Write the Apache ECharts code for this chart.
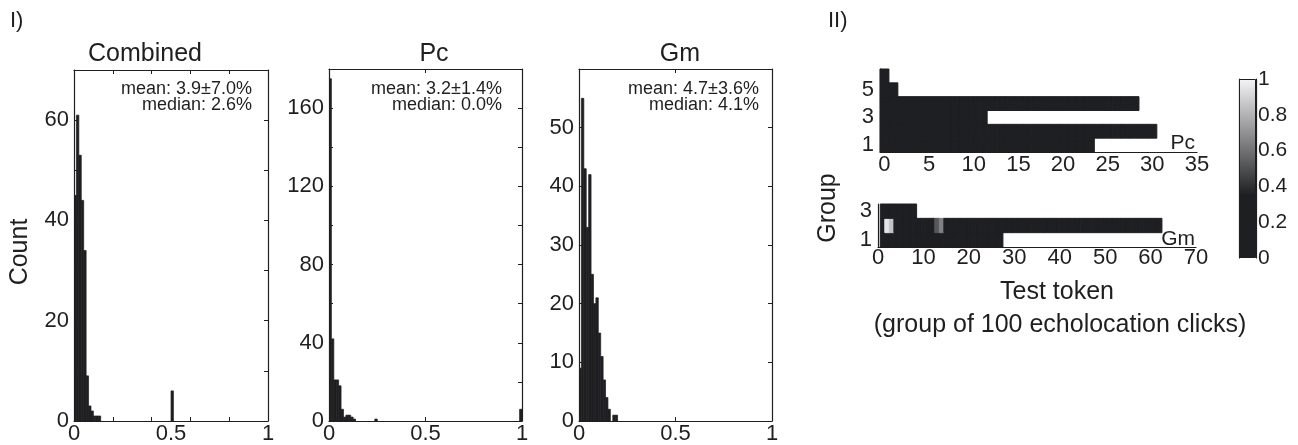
<!DOCTYPE html>
<html>
<head>
<meta charset="utf-8">
<script src="https://cdn.jsdelivr.net/npm/echarts@6/dist/echarts.min.js"></script>
<style>
  html, body { margin: 0; padding: 0; background: #fff; }
  #main { width: 1298px; height: 445px; }
</style>
</head>
<body>
<div id="main"></div>
<script>
// histogram bins, [bin index, count], bins are 0.0125 wide starting at 0
const binWidth = 0.0125;
const combinedBins = [[0,45],[1,61],[2,53],[3,44],[4,34],[5,9],[6,3],[7,2],[8,1],[9,1],[10,1],[40,6]];
const pcBins = [[0,175],[1,42],[2,21],[3,21],[4,18],[5,6],[6,2],[7,3],[8,3],[9,2],[10,1],[19,1],[79,6]];
const gmBins = [[0,9],[1,55],[2,43],[3,33],[4,42],[5,25],[6,20],[7,21],[8,15],[9,11],[10,7],[11,4],[12,2],[14,1],[15,1]];

const histTitles = ['Combined', 'Pc', 'Gm'];
const histStats = [
  ['mean: 3.9\u00b17.0%', 'median: 2.6%'],
  ['mean: 3.2\u00b11.4%', 'median: 0.0%'],
  ['mean: 4.7\u00b13.6%', 'median: 4.1%']
];
const histYMax = [70, 180, 60];
const histYTicks = [[10,20,30,40,50,60], [20,40,60,80,100,120,140,160], [10,20,30,40,50]];
const histYLabels = [[0,20,40,60], [0,40,80,120,160], [0,10,20,30,40,50]];
const histXTicks = [[0.2,0.4,0.6,0.8], [0.5], [0.5]];
const histXLabels = [0, 0.5, 1];

// test token maps: number of tokens per group (group 1 first)
const pcTokensPerGroup = [24, 31, 12, 29, 2, 1];
const gmTokensPerGroup = [27, 62, 8];
const cellBase = 0.1;
// [token, group, value] cells that are not plain dark
const gmBrightCells = [[2,2,0.95],[3,2,0.85],[13,2,0.52],[14,2,0.65]];
const pcXLabels = [0,5,10,15,20,25,30,35];
const gmXLabels = [0,10,20,30,40,50,60,70];
const pcYLabels = [1,3,5];
const gmYLabels = [1,3];
const cbarLabels = [0,0.2,0.4,0.6,0.8,1];
const cbarTicks = [0.1,0.2,0.3,0.4,0.5,0.6,0.7,0.8,0.9];

const ink = '#1f1f22';
const font = 'Liberation Sans, Arial, Helvetica, sans-serif';
const cmapStops = [[0, [30,31,34]], [0.35, [30,31,34]], [1, [244,244,246]]];

function cmap(v) {
  for (let i = 1; i < cmapStops.length; i++) {
    const a = cmapStops[i-1], b = cmapStops[i];
    if (v <= b[0]) {
      const t = (v - a[0]) / (b[0] - a[0] || 1);
      const c = a[1].map((x, j) => Math.round(x + (b[1][j] - x) * t));
      return 'rgb(' + c.join(',') + ')';
    }
  }
  return 'rgb(' + cmapStops[cmapStops.length-1][1].join(',') + ')';
}

function tokenCells(tokensPerGroup, firstToken, bright) {
  const cells = [];
  tokensPerGroup.forEach((n, gi) => {
    for (let k = 0; k < n; k++) {
      const token = firstToken + k, group = gi + 1;
      const hit = bright.find(c => c[0] === token && c[1] === group);
      cells.push([token, group, hit ? hit[2] : cellBase]);
    }
  });
  return cells;
}

function histItem(params, api) {
  const x0 = api.value(0), c = api.value(1);
  const p0 = api.coord([x0, c]);
  const p1 = api.coord([x0 + binWidth, 0]);
  return { type: 'rect', shape: { x: p0[0], y: p0[1], width: p1[0] - p0[0], height: p1[1] - p0[1] },
    style: { fill: ink, stroke: ink, lineWidth: 0.7 } };
}

function cellItem(params, api) {
  const t = api.value(0), g = api.value(1), v = api.value(2);
  const p0 = api.coord([t - 0.5, g + 0.5]);
  const p1 = api.coord([t + 0.5, g - 0.5]);
  const col = cmap(v);
  return { type: 'rect', shape: { x: p0[0], y: p0[1], width: p1[0] - p0[0], height: p1[1] - p0[1] },
    style: { fill: col, stroke: col, lineWidth: 1 } };
}

const lbl = (size, extra) => Object.assign({ color: ink, fontSize: size, fontFamily: font }, extra);
const line = { show: true, onZero: false, lineStyle: { color: ink, width: 1.2 } };

const grids = [
  { left: 74, top: 70, width: 194, height: 351 },
  { left: 329, top: 69, width: 193, height: 352 },
  { left: 579, top: 69, width: 193, height: 352 },
  { left: 880, top: 69, width: 317, height: 83 },
  { left: 878, top: 204, width: 318, height: 43 },
  { left: 1239, top: 79, width: 17, height: 179 }
];

const xAxis = [], yAxis = [], series = [], graphic = [];

[combinedBins, pcBins, gmBins].forEach((bins, i) => {
  const ticks = { show: true, inside: true, length: 4, customValues: histXTicks[i], lineStyle: { color: ink } };
  xAxis.push({ gridIndex: i, type: 'value', min: 0, max: 1, position: 'bottom', axisLine: line, axisTick: ticks,
    axisLabel: lbl(22, { customValues: histXLabels, margin: 2 }), splitLine: { show: false } });
  xAxis.push({ gridIndex: i, type: 'value', min: 0, max: 1, position: 'top', axisLine: line, axisTick: ticks,
    axisLabel: { show: false }, splitLine: { show: false } });
  const yt = { show: true, inside: true, length: 4, customValues: histYTicks[i], lineStyle: { color: ink } };
  yAxis.push({ gridIndex: i, type: 'value', min: 0, max: histYMax[i], position: 'left', axisLine: line, axisTick: yt,
    axisLabel: lbl(22, { customValues: histYLabels[i], margin: 5 }), splitLine: { show: false } });
  yAxis.push({ gridIndex: i, type: 'value', min: 0, max: histYMax[i], position: 'right', axisLine: line, axisTick: yt,
    axisLabel: { show: false }, splitLine: { show: false } });
  series.push({ type: 'custom', xAxisIndex: 2 * i, yAxisIndex: 2 * i, renderItem: histItem, clip: true,
    data: bins.map(b => [b[0] * binWidth, b[1]]) });
});

// heatmap axes
xAxis.push({ gridIndex: 3, type: 'value', min: -0.5, max: 35, axisLine: line, axisTick: { show: false },
  axisLabel: lbl(22, { customValues: pcXLabels, margin: 2 }), splitLine: { show: false } });
xAxis.push({ gridIndex: 4, type: 'value', min: 0, max: 70, axisLine: line, axisTick: { show: false },
  axisLabel: lbl(22, { customValues: gmXLabels, margin: 0 }), splitLine: { show: false } });
yAxis.push({ gridIndex: 3, type: 'value', min: 0.5, max: 6.5, axisLine: line, axisTick: { show: false },
  axisLabel: lbl(22, { customValues: pcYLabels, margin: 6 }), splitLine: { show: false } });
yAxis.push({ gridIndex: 4, type: 'value', min: 0.5, max: 3.5, axisLine: line, axisTick: { show: false },
  axisLabel: lbl(22, { customValues: gmYLabels, margin: 6 }), splitLine: { show: false } });
series.push({ type: 'custom', xAxisIndex: 6, yAxisIndex: 6, renderItem: cellItem,
  data: tokenCells(pcTokensPerGroup, 0, []) });
series.push({ type: 'custom', xAxisIndex: 7, yAxisIndex: 7, renderItem: cellItem,
  data: tokenCells(gmTokensPerGroup, 1, gmBrightCells) });

// colour bar
xAxis.push({ gridIndex: 5, type: 'category', data: ['c'], show: false });
const cbTicks = { show: true, inside: true, length: 3, customValues: cbarTicks, lineStyle: { color: '#555' } };
yAxis.push({ gridIndex: 5, type: 'value', min: 0, max: 1, position: 'right', axisLine: line, axisTick: cbTicks,
  axisLabel: lbl(21, { customValues: cbarLabels, margin: 2 }), splitLine: { show: false } });
yAxis.push({ gridIndex: 5, type: 'value', min: 0, max: 1, position: 'left', axisLine: line, axisTick: cbTicks,
  axisLabel: { show: false }, splitLine: { show: false } });
series.push({ type: 'bar', xAxisIndex: 8, yAxisIndex: 8, data: [1], barWidth: '100%',
  itemStyle: { borderColor: ink, borderWidth: 1,
    color: new echarts.graphic.LinearGradient(0, 0, 0, 1,
      cmapStops.slice().reverse().map(s => ({ offset: 1 - s[0], color: cmap(s[0]) }))) } });

// texts
const text = (x, y, s, size, align, rot) => ({ type: 'text', x: x, y: y, rotation: rot || 0,
  style: { text: s, fill: ink, font: size + 'px ' + font, textAlign: align || 'center', textVerticalAlign: 'middle' } });

const titleX = [145, 434, 680];
const statX = [252, 502, 759];
histTitles.forEach((t, i) => {
  graphic.push(text(titleX[i], 54, t, 25));
  graphic.push(text(statX[i], 89, histStats[i][0], 18, 'right'));
  graphic.push(text(statX[i], 105, histStats[i][1], 18, 'right'));
});
graphic.push(text(10, 21, 'I)', 22, 'left'));
graphic.push(text(828, 21, 'II)', 22, 'left'));
graphic.push(text(20, 252, 'Count', 25, 'center', Math.PI / 2));
graphic.push(text(828, 208, 'Group', 25, 'center', Math.PI / 2));
graphic.push(text(1195, 143, 'Pc', 21, 'right'));
graphic.push(text(1195, 239, 'Gm', 21, 'right'));
graphic.push(text(1057, 292, 'Test token', 25));
graphic.push(text(1060, 325, '(group of 100 echolocation clicks)', 25));

const chart = echarts.init(document.getElementById('main'));
chart.setOption({
  animation: false,
  backgroundColor: '#fff',
  grid: grids,
  xAxis: xAxis,
  yAxis: yAxis,
  series: series,
  graphic: graphic
});
</script>
</body>
</html>
